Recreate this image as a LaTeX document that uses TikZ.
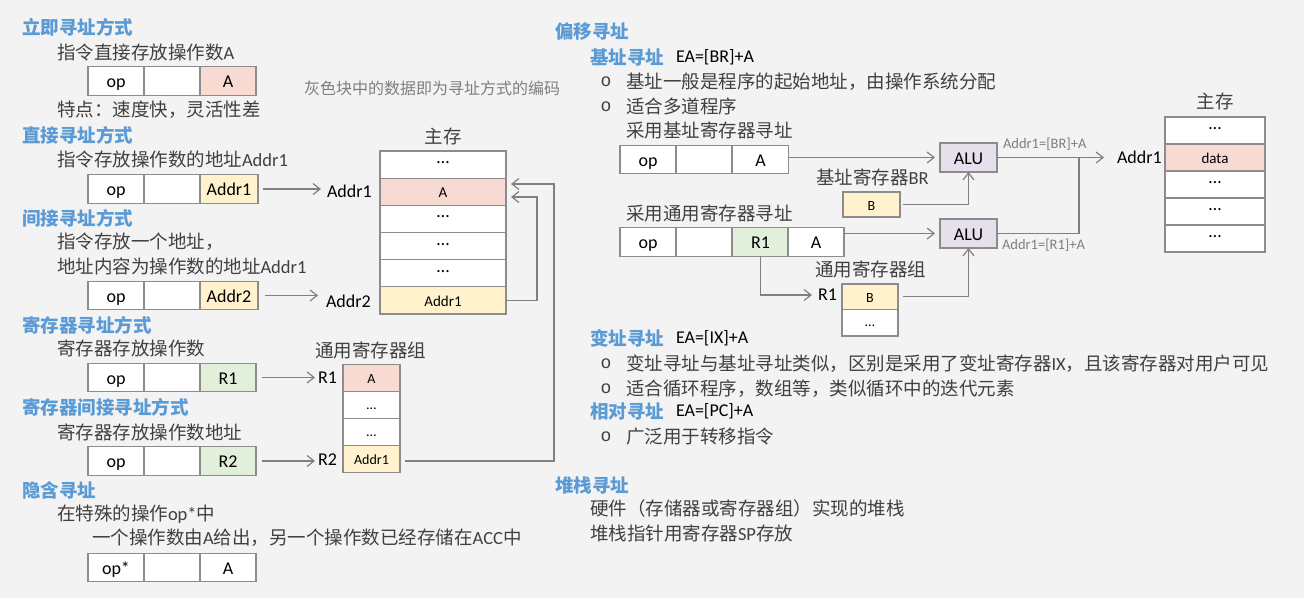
\documentclass[tikz,border=0pt]{standalone}
\usepackage{fontspec}
\setmainfont{Carlito}
\newfontfamily\zhfont{Noto Sans CJK SC}
\newfontfamily\monofont{Liberation Mono}
\usetikzlibrary{arrows.meta}
\definecolor{bg}{RGB}{243,243,243}
\definecolor{cellline}{RGB}{140,140,140}
\definecolor{wireline}{RGB}{128,128,128}
\definecolor{pinkfill}{RGB}{247,218,210}
\definecolor{yellowfill}{RGB}{255,242,204}
\definecolor{greenfill}{RGB}{226,239,218}
\definecolor{alufill}{RGB}{229,224,236}
\definecolor{headblue}{RGB}{91,155,213}
\definecolor{bodytext}{RGB}{64,64,64}
\definecolor{notegray}{RGB}{127,127,127}
\newcommand{\lt}[1]{{\rmfamily #1}}
% ellipsis raised to the middle of a cell
\newcommand{\celldots}{\raisebox{7pt}{\fontsize{18}{20}\selectfont …}}
\newcommand{\smalldots}{\raisebox{1.5pt}{\fontsize{14}{16}\selectfont …}}
\tikzset{
  base/.style={inner sep=0pt, outer sep=0pt},
  cell/.style={base, draw=cellline, line width=1.1pt, fill=white, minimum width=56pt,
    minimum height=28.5pt, text=black, font=\fontsize{18}{20}\selectfont,
    text height=14pt, text depth=1pt},
  pinkcell/.style={cell, fill=pinkfill},
  yellowcell/.style={cell, fill=yellowfill},
  greencell/.style={cell, fill=greenfill},
  memcell/.style={cell, minimum width=126pt, minimum height=27.2pt, font=\fontsize{15}{17}\selectfont,
    text height=13pt, text depth=1pt},
  memcellr/.style={memcell, minimum width=100pt, minimum height=27pt},
  regcell/.style={cell, minimum width=57pt, minimum height=27pt, font=\fontsize{14}{16}\selectfont,
    text height=12pt, text depth=1pt},
  alubox/.style={cell, fill=alufill, minimum width=57pt, minimum height=29pt},
  heading/.style={base, anchor=west, text=headblue, font=\fontsize{18.5}{22}\zhfont\bfseries},
  body/.style={base, anchor=west, text=bodytext, font=\fontsize{18.5}{22}\zhfont},
  latin/.style={base, anchor=west, text=black, font=\fontsize{18}{20}\selectfont},
  title/.style={base, text=bodytext, font=\fontsize{18.5}{22}\zhfont},
  note/.style={base, anchor=west, text=notegray, font=\fontsize{16}{18}\zhfont},
  smallnote/.style={base, anchor=west, text=notegray, font=\fontsize{14.5}{16}\selectfont},
  bulletmark/.style={base, text=bodytext, font=\fontsize{18}{20}\monofont},
  arr/.style={draw=wireline, line width=1.2pt, -{Straight Barb[length=7pt,width=11pt]}},
  wire/.style={draw=wireline, line width=1.2pt},
}
\begin{document}
\begin{tikzpicture}[x=1pt,y=-1pt]
\fill[bg] (0,0) rectangle (1304,598);
\useasboundingbox (0,0) rectangle (1304,598);

% ---------- immediate addressing ----------
\node[heading] (h1) at (22,27) {立即寻址方式};
\node[body] (t1) at (57,52) {指令直接存放操作数\lt{A}};
\node[cell] (r1a) at (116,81) {op};
\node[cell] (r1b) at (172,81) {};
\node[pinkcell] (r1c) at (228,81) {A};
\node[body] (t2) at (57,110) {特点：速度快，灵活性差};

% ---------- direct addressing ----------
\node[heading] (h2) at (22,135) {直接寻址方式};
\node[body] (t3) at (57,159) {指令存放操作数的地址\lt{Addr1}};
\node[cell] (r2a) at (116,189) {op};
\node[cell] (r2b) at (172,189) {};
\node[yellowcell, minimum width=58pt] (r2c) at (229,189) {Addr1};
\node[latin] (la1) at (327,191) {Addr1};

% ---------- indirect addressing ----------
\node[heading] (h3) at (22,218) {间接寻址方式};
\node[body] (t4) at (57,242) {指令存放一个地址，};
\node[body] (t5) at (57,266) {地址内容为操作数的地址\lt{Addr1}};
\node[cell] (r3a) at (116,295.5) {op};
\node[cell] (r3b) at (172,295.5) {};
\node[yellowcell, minimum width=58pt] (r3c) at (229,295.5) {Addr2};
\node[latin] (la2) at (326,301) {Addr2};

% ---------- register addressing ----------
\node[heading] (h4) at (22,325) {寄存器寻址方式};
\node[body] (t6) at (57,348) {寄存器存放操作数};
\node[cell] (r4a) at (116,377.5) {op};
\node[cell] (r4b) at (172,377.5) {};
\node[greencell] (r4c) at (228,377.5) {R1};
\node[latin] (lr1) at (318,378) {R1};

% ---------- register indirect addressing ----------
\node[heading] (h5) at (22,407) {寄存器间接寻址方式};
\node[body] (t7) at (57,432) {寄存器存放操作数地址};
\node[cell] (r5a) at (116,461) {op};
\node[cell] (r5b) at (172,461) {};
\node[greencell] (r5c) at (228,461) {R2};
\node[latin] (lr2) at (318,460) {R2};

% ---------- implied addressing ----------
\node[heading] (h6) at (22,490) {隐含寻址};
\node[body] (t8) at (57,514) {在特殊的操作\lt{op*}中};
\node[body] (t9) at (92,538) {一个操作数由\lt{A}给出，另一个操作数已经存储在\lt{ACC}中};
\node[cell] (r6a) at (116,567.5) {op*};
\node[cell] (r6b) at (172,567.5) {};
\node[cell] (r6c) at (228,567.5) {A};

% ---------- main memory (left) ----------
\node[note] (gnote) at (304,88.5) {灰色块中的数据即为寻址方式的编码};
\node[title] (memt) at (443,136.5) {主存};
\node[memcell] (m1) at (443,164.6) {\celldots};
\node[memcell, fill=pinkfill] (m2) at (443,191.8) {A};
\node[memcell] (m3) at (443,218.9) {\celldots};
\node[memcell] (m4) at (443,246.1) {\celldots};
\node[memcell] (m5) at (443,273.3) {\celldots};
\node[memcell, fill=yellowfill] (m6) at (443,300.4) {Addr1};

% ---------- register file (left) ----------
\node[title, anchor=west] (regt) at (315,350) {通用寄存器组};
\node[regcell, fill=pinkfill] (g1) at (371.5,378) {A};
\node[regcell] (g2) at (371.5,405) {\smalldots};
\node[regcell] (g3) at (371.5,432) {\smalldots};
\node[regcell, fill=yellowfill] (g4) at (371.5,459) {Addr1};

% ---------- connectors (left) ----------
\draw[arr, shorten <=5pt, shorten >=6pt] (r2c.east) -- (la1.west |- r2c.east);
\draw[arr, shorten <=7pt, shorten >=8pt] (r3c.east) -- (la2.west |- r3c.east);
\draw[arr, shorten <=6pt, shorten >=3pt] (r4c.east) -- (lr1.west |- r4c.east);
\draw[arr, shorten <=6pt, shorten >=3pt] (r5c.east) -- (lr2.west |- r5c.east);
\coordinate (inA) at (511,197);
\coordinate (inB) at (511,184);
\coordinate (bendB) at (554,461);
\draw[arr] (m6.east) -- ++(31,0) |- (inA);
\draw[arr] ([xshift=5pt,yshift=-2pt]g4.east) -- (bendB) |- (inB);

% ---------- displacement addressing ----------
\node[heading] (h7) at (555,32) {偏移寻址};
\node[heading] (h8) at (590,57.5) {基址寻址};
\node[latin] (f1) at (676,57.5) {EA=[BR]+A};
\node[bulletmark] (b1) at (606,82) {o};
\node[body] (t10) at (626,81.5) {基址一般是程序的起始地址，由操作系统分配};
\node[bulletmark] (b2) at (606,107) {o};
\node[body] (t11) at (626,106.5) {适合多道程序};
\node[body] (t12) at (626,130.5) {采用基址寄存器寻址};
\node[cell] (s1a) at (648,159.5) {op};
\node[cell] (s1b) at (704,159.5) {};
\node[cell] (s1c) at (760.5,159.5) {A};
\node[alubox] (alu1) at (968.5,157.5) {ALU};
\node[body] (brt) at (816,177) {基址寄存器\lt{BR}};
\node[regcell, fill=yellowfill, minimum height=25pt] (br) at (871.5,204.5) {B};
\node[smallnote] (n1) at (1003,144.5) {Addr1=[BR]+A};

\node[body] (t13) at (626,213.5) {采用通用寄存器寻址};
\node[cell] (s2a) at (648,242) {op};
\node[cell] (s2b) at (704,242) {};
\node[greencell] (s2c) at (760.5,242) {R1};
\node[cell] (s2d) at (816,242) {A};
\node[alubox] (alu2) at (968.5,233.5) {ALU};
\node[smallnote] (n2) at (1002,245) {Addr1=[R1]+A};
\node[body] (grt) at (815,269.5) {通用寄存器组};
\node[latin] (lr1b) at (818,295) {R1};
\node[regcell, minimum width=56pt, minimum height=25.5pt, fill=yellowfill] (q1) at (870,296.75) {B};
\node[regcell, minimum width=56pt, minimum height=26.5pt] (q2) at (870,322.75) {\smalldots};

% ---------- main memory (right) ----------
\node[title] (memt2) at (1215,101.5) {主存};
\node[latin] (la3) at (1117,157.5) {Addr1};
\node[memcellr] (w1) at (1215,130.5) {\celldots};
\node[memcellr, fill=pinkfill] (w2) at (1215,157.5) {data};
\node[memcellr] (w3) at (1215,184.5) {\celldots};
\node[memcellr] (w4) at (1215,211.5) {\celldots};
\node[memcellr] (w5) at (1215,238.5) {\celldots};

% ---------- connectors (right) ----------
\draw[arr, shorten >=5pt] (s1c.east |- alu1.west) -- (alu1.west);
\draw[arr, shorten >=5pt] (s2d.east |- alu2.west) -- (alu2.west);
\draw[arr, shorten <=3pt] (br.east) -| (alu1.south);
\draw[arr, shorten <=5pt] (q1.east) -| (alu2.south);
\draw[arr, shorten >=6pt] (s2c.south) |- (lr1b.west);
\coordinate (join) at (1079,157.5);
\draw[arr, shorten >=13pt] (alu1.east) -- (la3.west |- alu1.east);
\draw[wire] (alu2.east) -| (join);

% ---------- index / relative addressing ----------
\node[heading] (h9) at (590,338) {变址寻址};
\node[latin] (f2) at (676,338) {EA=[IX]+A};
\node[bulletmark] (b3) at (606,364) {o};
\node[body] (t14) at (626,363.5) {变址寻址与基址寻址类似，区别是采用了变址寄存器\lt{IX}，且该寄存器对用户可见};
\node[bulletmark] (b4) at (606,389) {o};
\node[body] (t15) at (626,388.5) {适合循环程序，数组等，类似循环中的迭代元素};
\node[heading] (h10) at (590,411.5) {相对寻址};
\node[latin] (f3) at (676,411.5) {EA=[PC]+A};
\node[bulletmark] (b5) at (606,437) {o};
\node[body] (t16) at (626,436.5) {广泛用于转移指令};

% ---------- stack addressing ----------
\node[heading] (h11) at (555,485) {堆栈寻址};
\node[body] (t17) at (590,508.5) {硬件（存储器或寄存器组）实现的堆栈};
\node[body] (t18) at (590,533.5) {堆栈指针用寄存器\lt{SP}存放};
\end{tikzpicture}
\end{document}
